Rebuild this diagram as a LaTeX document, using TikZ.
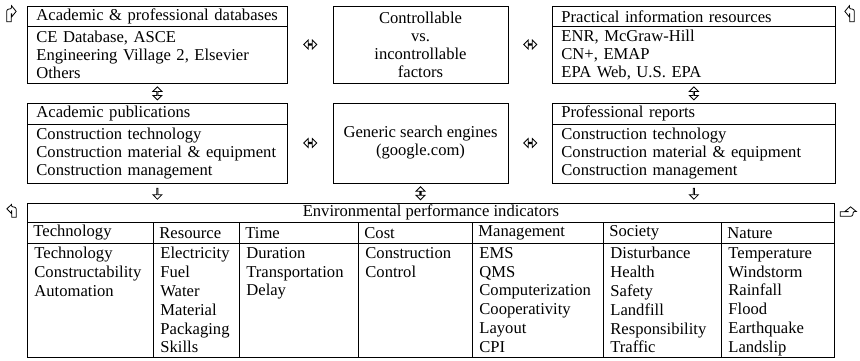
\documentclass[tikz,border=0pt]{standalone}
\usepackage{fontspec}
\setmainfont{Liberation Serif}
\usetikzlibrary{calc}
\usetikzlibrary{shapes.arrows}

\tikzset{
    hdr/.style={draw, anchor=north west, align=left, inner xsep=9pt, inner ysep=0pt, text width=#1, minimum height=20pt},
    bdy/.style={draw, anchor=north west, align=left, inner xsep=9pt, inner ysep=0pt, text width=#1},
    ctr/.style={draw, align=center, inner sep=0pt, minimum width=175pt},
    colhd/.style={draw, anchor=north west, align=left, inner xsep=6pt, inner ysep=0pt, text width=#1, minimum height=21pt},
    colbd/.style={draw, anchor=north west, inner sep=0pt, minimum width=#1, minimum height=114pt},
    items/.style={anchor=north west, align=left, inner xsep=7pt, inner ysep=4pt, font=\fontsize{16.6}{18.8}\selectfont},
    dblarr/.style={double arrow, draw, line width=0.8pt, inner sep=0pt, minimum height=13pt, minimum width=9pt, double arrow head extend=2.5pt},
    vdblarr/.style={dblarr, shape border rotate=90},
    downarr/.style={single arrow, draw, line width=0.8pt, inner sep=0pt, minimum height=11pt, minimum width=9pt, single arrow head extend=2.5pt, shape border rotate=270},
    bentarr/.pic={
        \draw[line width=0.8pt, rounded corners=2pt, scale=1.3] (-1.7,6) -- (-1.7,-3.8) -- (2,-3.8) [sharp corners] -- (2,-6.3) -- (5.5,-2) -- (2,2.3) -- (2,-0.2) -- (1.7,-0.2) -- (1.7,6) -- cycle;
    }
}

\begin{document}
\begin{tikzpicture}[x=1pt, y=-1pt, line width=0.8pt, font=\fontsize{16.6}{18}\selectfont]
    \useasboundingbox (0,0) rectangle (860,360);

    % first row
    \node[hdr=242pt] (dbH) at (27,6) {Academic \& professional databases};
    \node[bdy=242pt, minimum height=57pt] (dbB) at (27,26) {CE Database, ASCE\\Engineering Village 2, Elsevier\\Others};
    \node[ctr, minimum height=77pt] (ctrl) at (420.5,44.5) {Controllable\\vs.\\incontrollable\\factors};
    \node[hdr=265pt] (prH) at (552,6) {Practical information resources};
    \node[bdy=265pt, minimum height=57pt] (prB) at (552,26) {ENR, McGraw-Hill\\CN+, EMAP\\EPA Web, U.S. EPA};

    % second row
    \node[hdr=242pt, minimum height=21pt] (pubH) at (27,103) {Academic publications};
    \node[bdy=242pt, minimum height=59pt] (pubB) at (27,124) {Construction technology\\Construction material \& equipment\\Construction management};
    \node[ctr, minimum height=80pt] (search) at (420.5,143) {Generic search engines\\(google.com)};
    \node[hdr=265pt, minimum height=21pt] (repH) at (552,103) {Professional reports};
    \node[bdy=265pt, minimum height=59pt] (repB) at (552,124) {Construction technology\\Construction material \& equipment\\Construction management};

    % indicator table
    \node[draw, anchor=north west, inner sep=0pt, minimum width=807pt, minimum height=19pt] (epi) at (27,203) {Environmental performance indicators};
    \node[colhd=114pt] (techH) at (27,222) {Technology};
    \node[colhd=74pt] (resH) at (153,222) {Resource};
    \node[colhd=107pt] (timeH) at (239,222) {Time};
    \node[colhd=102pt] (costH) at (358,222) {Cost};
    \node[colhd=119pt] (mgmtH) at (472,222) {Management};
    \node[colhd=106pt] (socH) at (603,222) {Society};
    \node[colhd=101pt] (natH) at (721,222) {Nature};
    \node[colbd=126pt] (techB) at (27,243) {};
    \node[colbd=86pt] (resB) at (153,243) {};
    \node[colbd=119pt] (timeB) at (239,243) {};
    \node[colbd=114pt] (costB) at (358,243) {};
    \node[colbd=131pt] (mgmtB) at (472,243) {};
    \node[colbd=118pt] (socB) at (603,243) {};
    \node[colbd=113pt] (natB) at (721,243) {};
    \node[items] (techL) at (techB.north west) {Technology\\Constructability\\Automation};
    \node[items] (resL) at (resB.north west) {Electricity\\Fuel\\Water\\Material\\Packaging\\Skills};
    \node[items] (timeL) at (timeB.north west) {Duration\\Transportation\\Delay};
    \node[items] (costL) at (costB.north west) {Construction\\Control};
    \node[items] (mgmtL) at (mgmtB.north west) {EMS\\QMS\\Computerization\\Cooperativity\\Layout\\CPI};
    \node[items] (socL) at (socB.north west) {Disturbance\\Health\\Safety\\Landfill\\Responsibility\\Traffic};
    \node[items] (natL) at (natB.north west) {Temperature\\Windstorm\\Rainfall\\Flood\\Earthquake\\Landslip};

    % hollow arrows between the boxes
    \node[dblarr] (dbCtrl) at ($(dbB.east |- ctrl.west)!0.5!(ctrl.west)$) {};
    \node[dblarr] (ctrlPr) at ($(ctrl.east)!0.5!(ctrl.east -| prB.west)$) {};
    \node[vdblarr] (dbPub) at ($(dbB.south)!0.5!(pubH.north)$) {};
    \node[vdblarr] (prRep) at ($(prB.south)!0.5!(repH.north)$) {};
    \node[dblarr] (pubSearch) at ($(search.west -| pubB.east)!0.5!(search.west)$) {};
    \node[dblarr] (searchRep) at ($(search.east)!0.5!(search.east -| repB.west)$) {};
    \node[downarr] (pubEpi) at ($(pubB.south)!0.5!(pubB.south |- epi.north)$) {};
    \node[vdblarr] (searchEpi) at ($(search.south)!0.5!(search.south |- epi.north)$) {};
    \node[downarr] (repEpi) at ($(repB.south)!0.5!(repB.south |- epi.north)$) {};

    % bent arrows at the corners
    \pic at (9,14) {bentarr};
    \pic[xscale=-1] at (852,14) {bentarr};
    \pic[xscale=-1, yscale=0.8] at (14,211) {bentarr};
    \pic[cm={0,1,1,0,(0,0)}] at (848,214) {bentarr};
\end{tikzpicture}
\end{document}
